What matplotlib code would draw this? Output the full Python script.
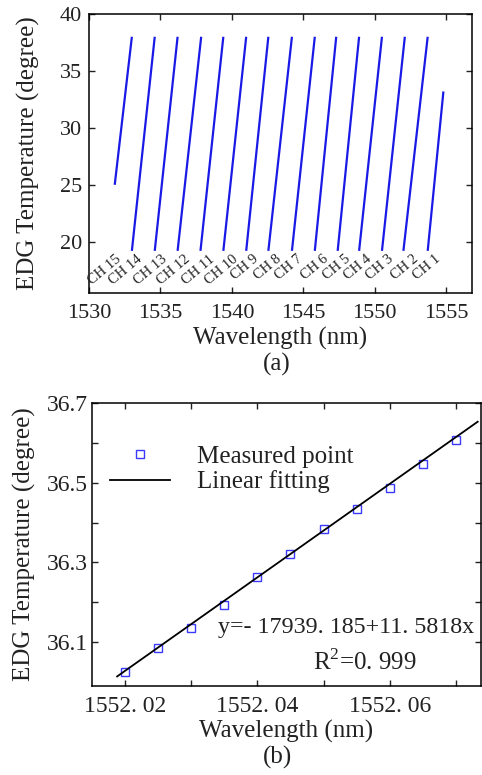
import matplotlib
matplotlib.use("Agg")
import matplotlib.pyplot as plt
from matplotlib.ticker import FixedLocator

plt.rcParams['font.family'] = ['Liberation Serif', 'DejaVu Serif']
plt.rcParams['mathtext.fontset'] = 'custom'
plt.rcParams['mathtext.rm'] = 'Liberation Serif'

# ---------------- Panel (a) data ----------------
channels = ["CH 1", "CH 2", "CH 3", "CH 4", "CH 5", "CH 6", "CH 7", "CH 8",
            "CH 9", "CH 10", "CH 11", "CH 12", "CH 13", "CH 14", "CH 15"]
ch_wl_start = [1553.7, 1552.0, 1550.5, 1548.9, 1547.4, 1545.8, 1544.2, 1542.55,
               1541.0, 1539.4, 1537.8, 1536.2, 1534.6, 1533.0, 1531.8]
ch_wl_end = [1554.8, 1553.7, 1552.1, 1550.5, 1548.9, 1547.3, 1545.8, 1544.2,
             1542.55, 1541.0, 1539.4, 1537.85, 1536.2, 1534.6, 1533.0]
ch_t_start = [19.2, 19.2, 19.2, 19.2, 19.2, 19.2, 19.2, 19.2,
              19.2, 19.2, 19.2, 19.2, 19.2, 19.2, 25.0]
ch_t_end = [33.2, 38.0, 38.0, 38.0, 38.0, 38.0, 38.0, 38.0,
            38.0, 38.0, 38.0, 38.0, 38.0, 38.0, 38.0]
label_wl = [1554.5, 1552.9, 1551.2, 1549.6, 1548.2, 1546.6, 1544.8, 1543.35,
            1541.75, 1540.3, 1538.7, 1536.95, 1535.35, 1533.6, 1532.1]
a_xticks = [1530, 1535, 1540, 1545, 1550, 1555]
a_yticks = [20, 25, 30, 35, 40]

# ---------------- Panel (b) data ----------------
meas_wl = [1552.020, 1552.025, 1552.030, 1552.035, 1552.040, 1552.045,
           1552.050, 1552.055, 1552.060, 1552.065, 1552.070]
meas_t = [36.026, 36.085, 36.135, 36.194, 36.263, 36.322,
          36.384, 36.433, 36.488, 36.548, 36.607]
fit_wl = [1552.0188, 1552.0733]
fit_t = [36.014, 36.653]
b_xticks = [1552.02, 1552.04, 1552.06]
b_xticklabels = ["1552. 02", "1552. 04", "1552. 06"]
b_xminor = [1552.03, 1552.05, 1552.07]
b_yticks = [36.1, 36.3, 36.5, 36.7]
b_yticklabels = ["36.1", "36.3", "36.5", "36.7"]
b_yminor = [36.2, 36.4, 36.6]

W, H = 482, 775
fig = plt.figure(figsize=(W / 100, H / 100), dpi=100)

def box(l, t, r, b):
    return [l / W, 1 - b / H, (r - l) / W, (b - t) / H]

blue = '#1a1ae6'
tc = '#222222'
fs_tick = 16
fs_lab = 18

# ---------- (a) ----------
ax1 = fig.add_axes(box(89, 14, 472, 293))
for i, name in enumerate(channels):
    ax1.plot([ch_wl_start[i], ch_wl_end[i]], [ch_t_start[i], ch_t_end[i]],
             color=blue, lw=1.6, solid_capstyle='butt')
    ax1.text(label_wl[i], 18.6, name, rotation=40, rotation_mode='anchor',
             ha='right', va='center', fontsize=10.5, color=tc)
ax1.set_xlim(1530, 1556.8)
ax1.set_ylim(15.5, 40)
ax1.xaxis.set_major_locator(FixedLocator(a_xticks))
ax1.yaxis.set_major_locator(FixedLocator(a_yticks))
ax1.set_xticklabels([str(v) for v in a_xticks])
ax1.set_yticklabels([str(v) for v in a_yticks])
ax1.tick_params(direction='in', top=True, right=True, length=4, width=1,
                labelsize=fs_tick, colors=tc)
ax1.tick_params(axis='x', pad=8)
ax1.tick_params(axis='y', pad=5)
ax1.set_xlabel("Wavelength (nm)", fontsize=fs_lab, labelpad=3, color=tc)
ax1.set_ylabel("EDG Temperature (degree)", fontsize=fs_lab, color=tc)
ax1.yaxis.set_label_coords(-0.127, 0.5)
for s in ax1.spines.values():
    s.set_linewidth(1.1)
fig.text(277 / W, 1 - 364 / H, "(a)", ha='center', va='center', fontsize=fs_lab, color=tc)

# ---------- (b) ----------
ax2 = fig.add_axes(box(92, 403, 481, 686))
ax2.plot(meas_wl, meas_t, linestyle='none', marker='s', markersize=6,
         markerfacecolor='none', markeredgecolor='#3a3aff', markeredgewidth=1,
         label='Measured point')
ax2.plot(fit_wl, fit_t, color='black', lw=1.3, label='Linear fitting')
ax2.set_xlim(1552.015, 1552.0738)
ax2.set_ylim(35.99, 36.7)
ax2.xaxis.set_major_locator(FixedLocator(b_xticks))
ax2.xaxis.set_minor_locator(FixedLocator(b_xminor))
ax2.yaxis.set_major_locator(FixedLocator(b_yticks))
ax2.yaxis.set_minor_locator(FixedLocator(b_yminor))
ax2.set_xticklabels(b_xticklabels)
ax2.set_yticklabels(b_yticklabels)
ax2.tick_params(which='both', direction='in', top=True, right=True, length=4,
                width=1, labelsize=17, colors=tc)
ax2.tick_params(axis='x', which='both', pad=7)
ax2.tick_params(axis='y', which='both', pad=3)
ax2.set_xlabel("Wavelength (nm)", fontsize=fs_lab, labelpad=2, color=tc)
ax2.set_ylabel("EDG Temperature (degree)", fontsize=fs_lab, color=tc)
ax2.yaxis.set_label_coords(-0.145, 0.5)
for s in ax2.spines.values():
    s.set_linewidth(1.1)
leg = ax2.legend(loc='upper left', bbox_to_anchor=(0.046, 0.85), frameon=False,
                 fontsize=fs_lab, handlelength=2.4, handletextpad=1.1,
                 borderpad=0, borderaxespad=0, labelspacing=0.1)
for t in leg.get_texts():
    t.set_color(tc)
ax2.text(0.324, 0.205, "y=- 17939. 185+11. 5818x", transform=ax2.transAxes,
         fontsize=17.3, ha='left', va='center', color=tc)
ax2.text(0.568, 0.085, "R$^2$=0. 999", transform=ax2.transAxes,
         fontsize=fs_lab, ha='left', va='center', color=tc)
fig.text(278 / W, 1 - 757 / H, "(b)", ha='center', va='center', fontsize=fs_lab, color=tc)

fig.savefig("out.png", dpi=100)
